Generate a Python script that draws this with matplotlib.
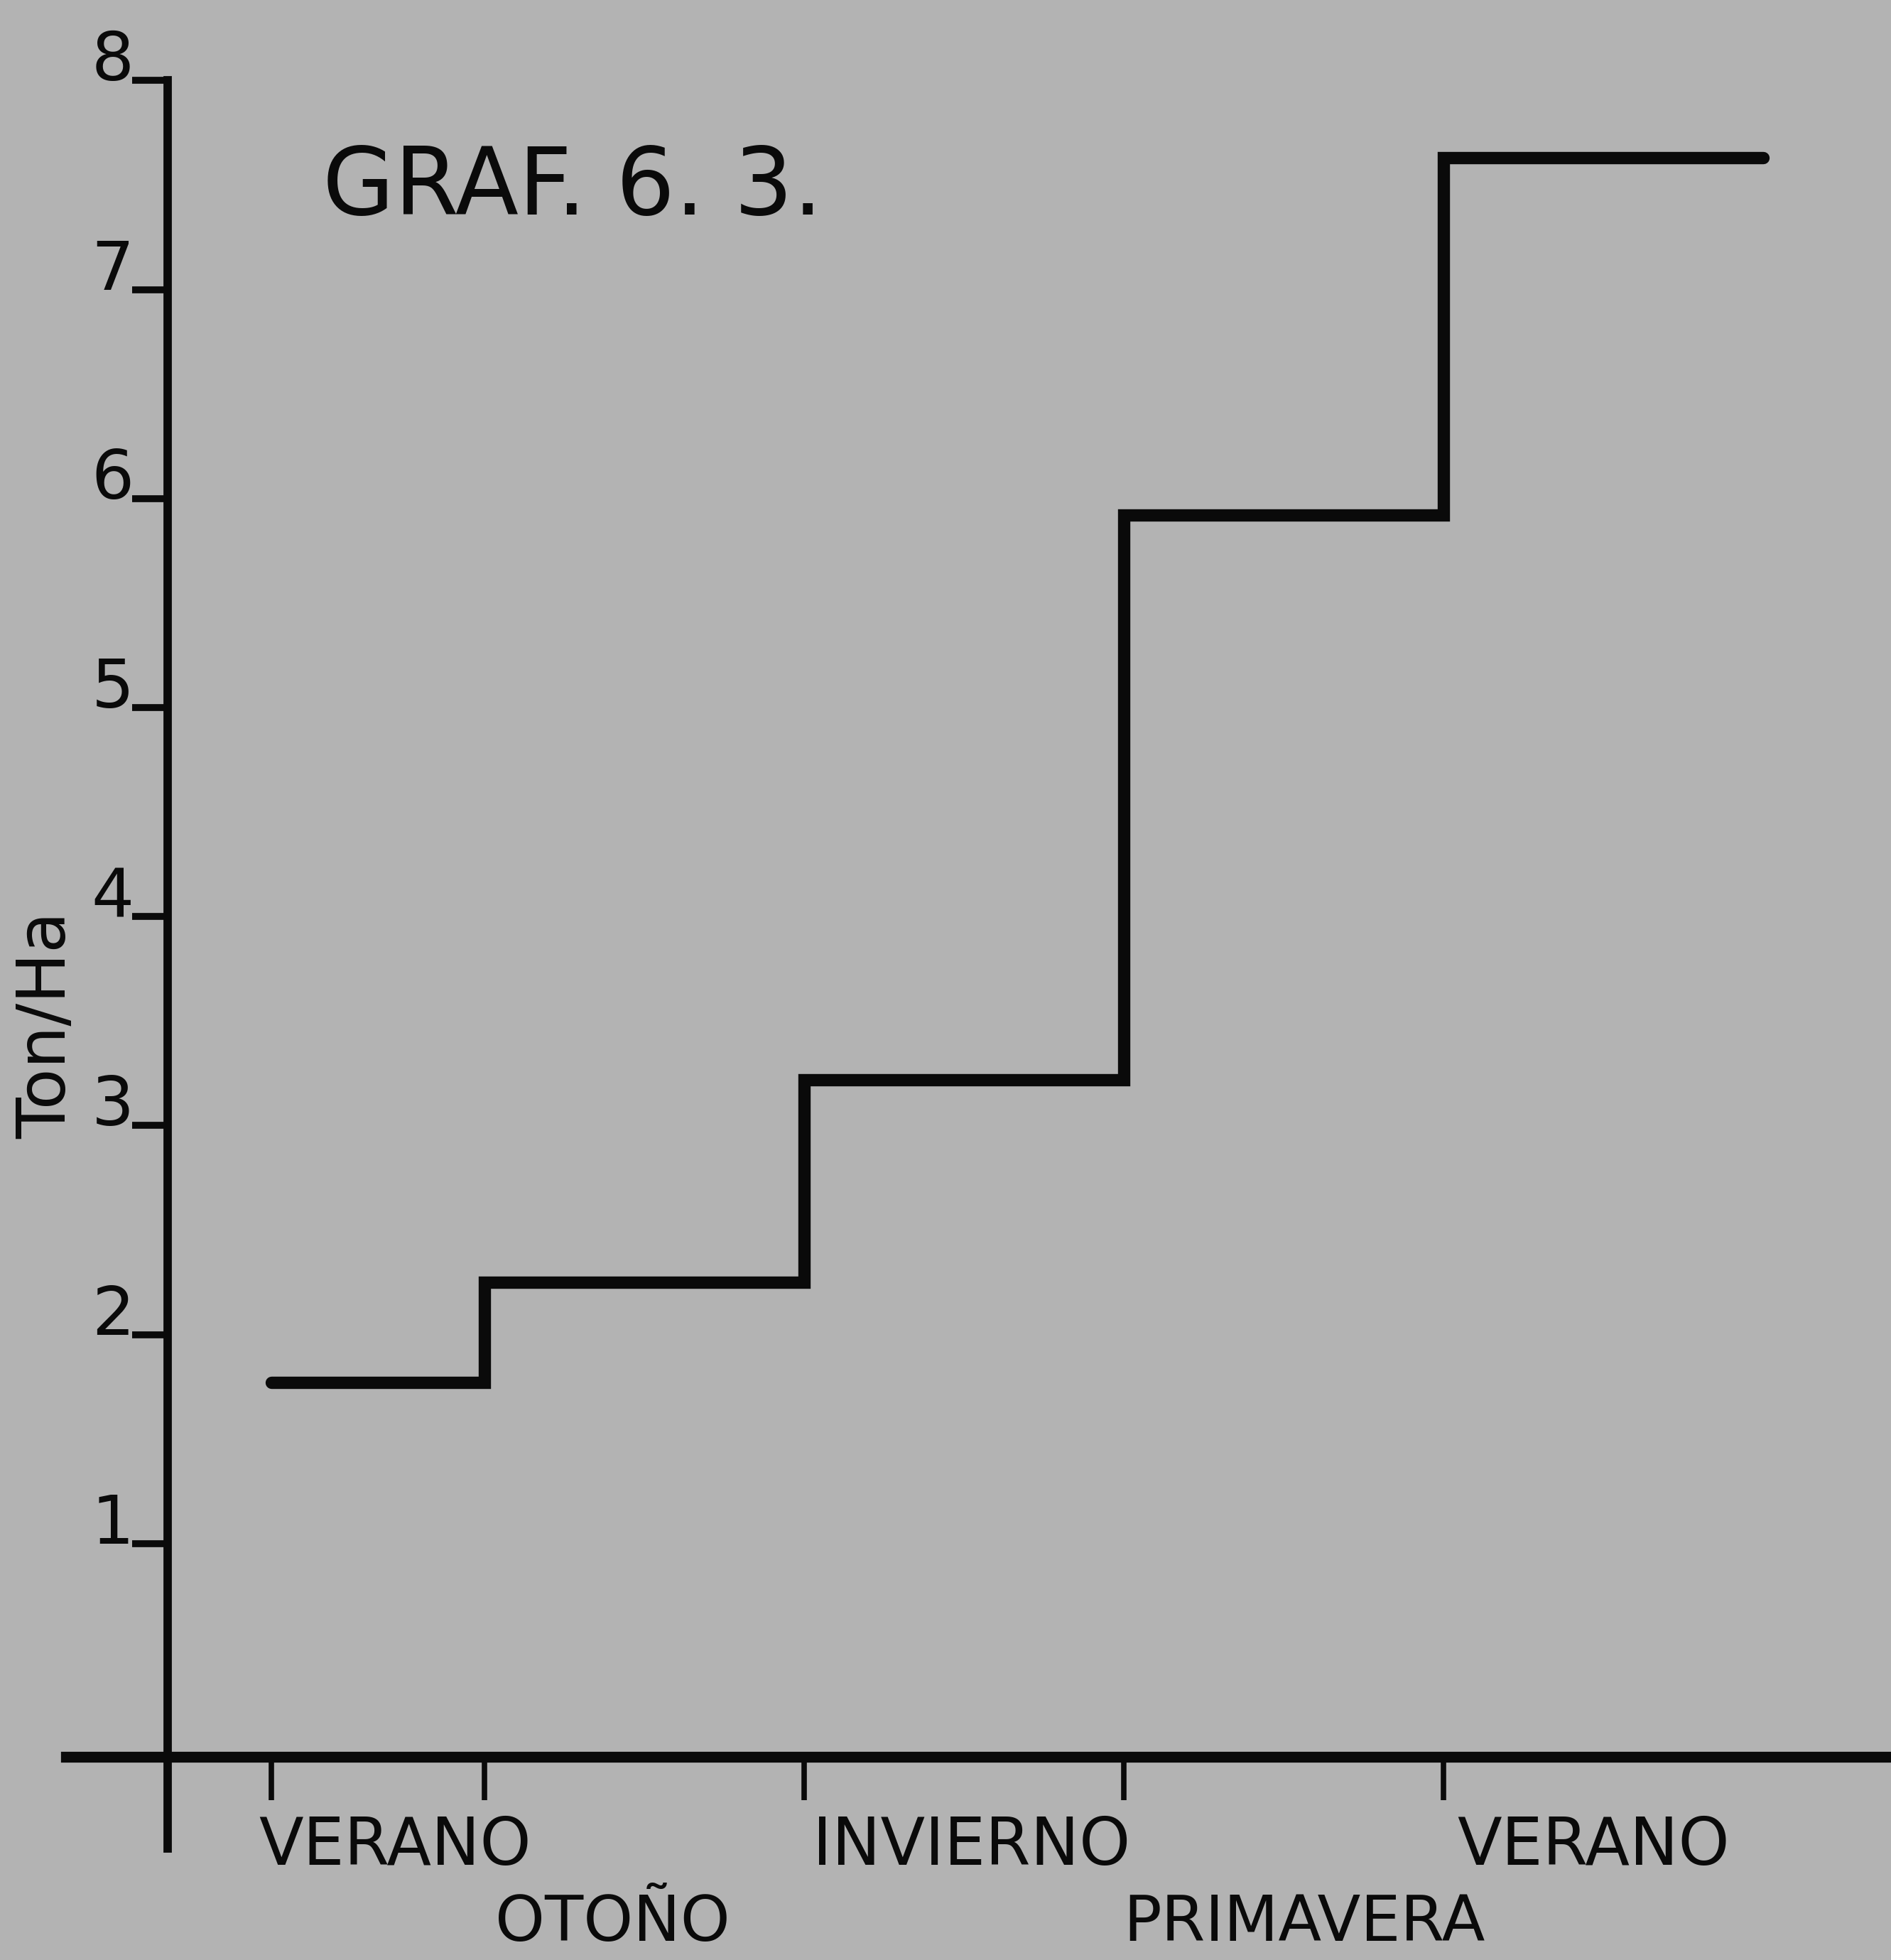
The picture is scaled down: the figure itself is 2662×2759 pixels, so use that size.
import matplotlib
matplotlib.use("Agg")
import matplotlib.pyplot as plt

# ---- data ----
season_edges = [0, 2, 5, 8, 11, 14]          # month boundaries of each season
yield_values = [1.77, 2.25, 3.22, 5.92, 7.63]  # Ton/Ha per season
upper_labels = ["VERANO", "INVIERNO", "VERANO"]
upper_label_x = [1.16, 6.57, 12.41]
lower_labels = ["OTOÑO", "PRIMAVERA"]
lower_label_x = [3.2, 9.69]
x_tick_positions = [0, 2, 5, 8, 11]
y_tick_values = [1, 2, 3, 4, 5, 6, 7, 8]
y_tick_labels = ["1", "2", "3", "4", "5", "6", "7", "8"]
title_text = "GRAF. 6. 3."
y_label = "Ton/Ha"

BG = "#b3b3b3"
INK = "#0a0a0a"

plt.rcParams['font.family'] = ['DejaVu Sans']

fig = plt.figure(figsize=(26.62, 27.59), dpi=100, facecolor=BG)
ax = fig.add_axes([0, 0, 1, 1], facecolor=BG)
ax.set_xlim(-2.5467, 15.2)
ax.set_ylim(-0.9925, 8.3854)

# spines as the hand-drawn axes
for s in ("top", "right"):
    ax.spines[s].set_visible(False)
ax.spines["left"].set_position(("data", -0.973))
ax.spines["left"].set_bounds(-0.46, 8.0)
ax.spines["left"].set_linewidth(8.5)
ax.spines["left"].set_color(INK)
ax.spines["bottom"].set_position(("data", -0.02))
ax.spines["bottom"].set_bounds(-1.93, 15.2)
ax.spines["bottom"].set_linewidth(11)
ax.spines["bottom"].set_color(INK)

ax.set_xticks(x_tick_positions)
ax.set_xticklabels([""] * len(x_tick_positions))
ax.tick_params(axis="x", direction="out", length=44, width=5.5, color=INK)

ax.set_yticks(y_tick_values)
ax.set_yticklabels(y_tick_labels, fontsize=68, color=INK)
ax.tick_params(axis="y", direction="out", length=36, width=7, color=INK, pad=-2)
plt.setp(ax.get_yticklabels(), va="baseline")

# step line
st = ax.stairs(yield_values, season_edges, baseline=None, color=INK, linewidth=12.5)
st.set_capstyle("round")
st.set_joinstyle("miter")

# season labels
for lab, x in zip(upper_labels, upper_label_x):
    ax.text(x, -0.537, lab, ha="center", va="baseline", fontsize=66, color=INK)
for lab, x in zip(lower_labels, lower_label_x):
    ax.text(x, -0.90, lab, ha="center", va="baseline", fontsize=64, color=INK)

# title and y label
ax.text(0.48, 7.36, title_text, ha="left", va="baseline", fontsize=94, color=INK)
ax.text(-2.107, 3.48, y_label, ha="center", va="center", rotation=90,
        fontsize=68, color=INK)

fig.savefig("out.png", dpi=100, facecolor=BG)
